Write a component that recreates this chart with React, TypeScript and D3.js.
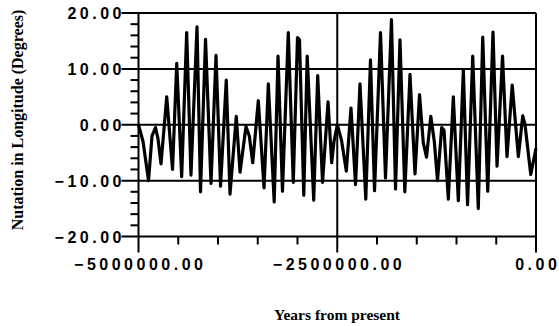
import React, { useEffect, useRef } from 'react'
import * as d3 from 'd3'

// years from present (vertices of the curve)
const years = [
  -5000000, -4943000, -4874000, -4830000, -4786000, -4755000, -4717000, -4645000, -4572000, -4519000,
  -4457000, -4394000, -4340000, -4264000, -4220000, -4157000, -4088000, -4025000, -3968000, -3896000,
  -3849000, -3770000, -3723000, -3648000, -3606000, -3563000, -3493000, -3421000, -3367000, -3293000,
  -3245000, -3189000, -3116000, -3053000, -3000000, -2975000, -2921000, -2878000, -2796000, -2746000,
  -2685000, -2616000, -2570000, -2541000, -2499000, -2446000, -2386000, -2327000, -2270000, -2214000,
  -2141000, -2082000, -2031000, -1956000, -1893000, -1818000, -1767000, -1711000, -1650000, -1585000,
  -1522000, -1465000, -1418000, -1377000, -1323000, -1279000, -1239000, -1186000, -1157000, -1103000,
  -1040000, -977000, -914000, -861000, -796000, -726000, -670000, -607000, -541000, -490000,
  -421000, -365000, -299000, -222000, -167000, -138000, -66000, 0
]

const nutation = [
  0, -3, -10, -2, -0.5, -2.5, -7, 5, -8, 11,
  -9.3, 16.5, -9, 17.5, -12, 15.3, -10.5, 12.4, -11, 8,
  -12.4, 1.5, -8.5, -0.3, -2, -6.8, 4.3, -11.3, 7.3, -13.8,
  12.3, -11.9, 16.5, -10.3, 15.6, 15.2, -12.6, 12.3, -13.5, 8.8,
  -10.3, 4.1, -6.8, -3, 0, -2.8, -8.3, 3, -10.7, 7.3,
  -13.3, 11.6, -11.8, 16.5, -9.5, 18.8, -11.5, 15.2, -12, 9,
  -8.8, 5.4, -3.2, -5.8, 1.5, -3, -10, -0.5, -1, -13.3,
  5, -13.6, 9.8, -14.3, 12.3, -15, 15.7, -11.9, 16.6, -7.4,
  12.3, -5.7, 7.1, -5.7, 1.6, 0, -8.9, -4.2
]

const yTicks = [20, 10, 0, -10, -20]
const xTicks = [-5000000, -2500000, 0]

const App = () => {
  const ref = useRef<SVGSVGElement>(null)

  useEffect(() => {
    const svg = d3.select(ref.current)
    svg.selectAll('*').remove()

    const left = 138.5
    const right = 536
    const top = 13
    const bottom = 236.5
    const spacing = 3.5

    const x = d3.scaleLinear().domain([-5000000, 0]).range([left, right])
    const y = d3.scaleLinear().domain([-20, 20]).range([bottom, top])

    svg.append('rect')
      .attr('width', 559).attr('height', 326).attr('fill', '#fff')

    // minor y ticks
    const yMinor = d3.range(-20, 20.1, 2).filter(v => v % 10 !== 0)
    svg.append('g').selectAll('line')
      .data(yMinor)
      .join('line')
      .attr('x1', left - 8).attr('x2', left)
      .attr('y1', d => y(d)).attr('y2', d => y(d))
      .attr('stroke', '#000').attr('stroke-width', 2)

    // major y ticks + horizontal grid
    svg.append('g').selectAll('line')
      .data(yTicks)
      .join('line')
      .attr('x1', left - 17).attr('x2', right)
      .attr('y1', d => y(d)).attr('y2', d => y(d))
      .attr('stroke', '#000').attr('stroke-width', 2)

    // minor x ticks
    const xMinor = d3.range(-5000000, 1, 500000).filter(v => v % 2500000 !== 0)
    svg.append('g').selectAll('line')
      .data(xMinor)
      .join('line')
      .attr('x1', d => x(d)).attr('x2', d => x(d))
      .attr('y1', bottom).attr('y2', bottom + 8)
      .attr('stroke', '#000').attr('stroke-width', 2)

    // major x ticks + vertical grid
    svg.append('g').selectAll('line')
      .data(xTicks)
      .join('line')
      .attr('x1', d => x(d)).attr('x2', d => x(d))
      .attr('y1', top).attr('y2', bottom + 16)
      .attr('stroke', '#000').attr('stroke-width', 2)

    const line = d3.line<number>()
      .x((d, i) => x(years[i]))
      .y(d => y(d))

    svg.append('path')
      .datum(nutation)
      .attr('d', line)
      .attr('fill', 'none')
      .attr('stroke', '#000')
      .attr('stroke-width', 3.2)
      .attr('stroke-linejoin', 'round')

    svg.append('g').selectAll('text')
      .data(yTicks)
      .join('text')
      .attr('x', left - 17 + spacing)
      .attr('y', d => y(d) + 6)
      .attr('text-anchor', 'end')
      .attr('font-family', 'Liberation Sans, Arial, sans-serif')
      .attr('font-weight', 'bold')
      .attr('font-size', 16)
      .attr('letter-spacing', spacing)
      .text(d => d3.format('.2f')(d))

    svg.append('g').selectAll('text')
      .data(xTicks)
      .join('text')
      .attr('x', d => x(d) + spacing / 2)
      .attr('y', 270)
      .attr('text-anchor', 'middle')
      .attr('font-family', 'Liberation Sans, Arial, sans-serif')
      .attr('font-weight', 'bold')
      .attr('font-size', 16)
      .attr('letter-spacing', spacing)
      .text(d => d3.format('.2f')(d))

    svg.append('text')
      .attr('x', 337)
      .attr('y', 320)
      .attr('text-anchor', 'middle')
      .attr('font-family', 'Liberation Serif, Times New Roman, serif')
      .attr('font-weight', 'bold')
      .attr('font-size', 15.5)
      .text('Years from present')

    svg.append('text')
      .attr('transform', 'translate(23,120) rotate(-90)')
      .attr('text-anchor', 'middle')
      .attr('font-family', 'Liberation Serif, Times New Roman, serif')
      .attr('font-weight', 'bold')
      .attr('font-size', 16)
      .text('Nutation in Longitude (Degrees)')
  }, [])

  return (
    <svg ref={ref} width={559} height={326}
      style={{ position: 'absolute', left: 0, top: 0 }} />
  )
}

export default App
